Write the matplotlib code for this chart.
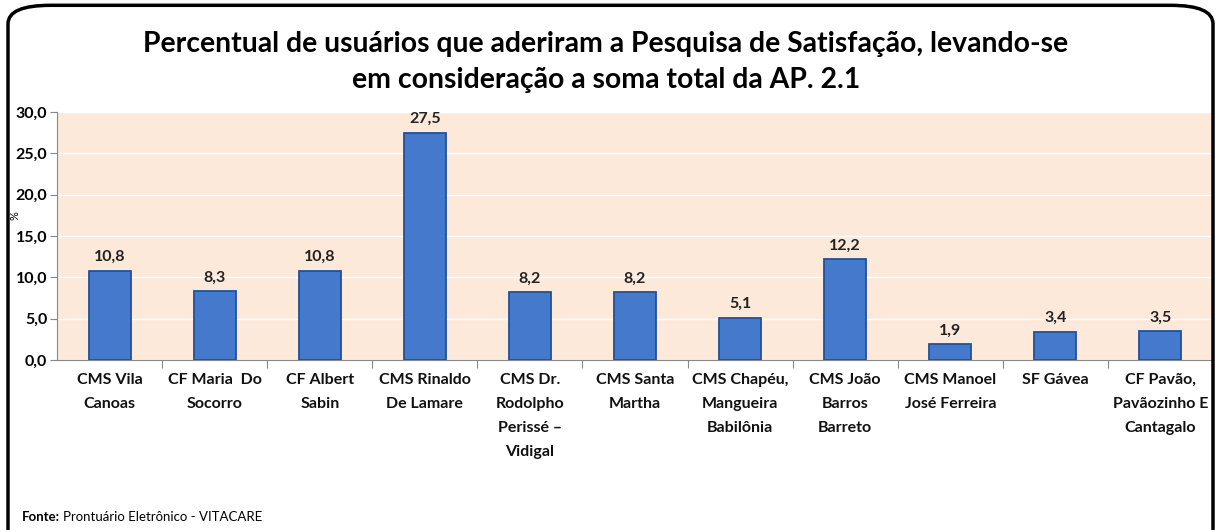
import matplotlib.pyplot as plt
from matplotlib.patches import FancyBboxPatch

# dados
categorias = [
    "CMS Vila\nCanoas",
    "CF Maria  Do\nSocorro",
    "CF Albert\nSabin",
    "CMS Rinaldo\nDe Lamare",
    "CMS Dr.\nRodolpho\nPerissé –\nVidigal",
    "CMS Santa\nMartha",
    "CMS Chapéu,\nMangueira\nBabilônia",
    "CMS João\nBarros\nBarreto",
    "CMS Manoel\nJosé Ferreira",
    "SF Gávea",
    "CF Pavão,\nPavãozinho E\nCantagalo",
]
percentuais = [10.8, 8.3, 10.8, 27.5, 8.2, 8.2, 5.1, 12.2, 1.9, 3.4, 3.5]
ticks_y = [0, 5, 10, 15, 20, 25, 30]

plt.rcParams["font.family"] = ["Lato", "DejaVu Sans"]

fig = plt.figure(figsize=(12.19, 5.30), dpi=100)
ax = fig.add_axes([57 / 1219, 1 - 360 / 530, (1213 - 57) / 1219, (360 - 112) / 530])

# moldura arredondada
moldura = FancyBboxPatch((8 / 1219, -0.05), 1205 / 1219, 1.04,
                         boxstyle="round,pad=0,rounding_size=0.035",
                         transform=fig.transFigure, facecolor="none",
                         edgecolor="black", linewidth=2.5, clip_on=False)
fig.patches.append(moldura)

ax.set_facecolor("#fde9d9")
x = range(len(categorias))
ax.bar(x, percentuais, width=0.4, color="#4479cc",
       edgecolor="#22509a", linewidth=1.3, zorder=3)

for xi, v in zip(x, percentuais):
    ax.text(xi, v + 0.8, f"{v:.1f}".replace(".", ","), ha="center", va="bottom",
            fontsize=11.5, fontweight="bold", color="#222222")

ax.set_xlim(-0.5, len(categorias) - 0.5)
ax.set_ylim(0, 30)
ax.set_yticks(ticks_y)
ax.set_yticklabels([f"{t:.1f}".replace(".", ",") for t in ticks_y],
                   fontsize=11.5, fontweight="bold")
ax.set_xticks([i + 0.5 for i in range(len(categorias) - 1)])
ax.set_xticklabels([])
ax.tick_params(axis="x", length=6, color="#888888")
ax.tick_params(axis="y", length=5, color="#888888", pad=2)
for xi, lab in zip(x, categorias):
    ax.text(xi, -1.6, lab, ha="center", va="top", fontsize=11.5,
            fontweight="bold", linespacing=1.9, color="#111111")

ax.grid(axis="y", color="white", linewidth=1, zorder=0)
for s in ["top", "right"]:
    ax.spines[s].set_visible(False)
ax.spines["left"].set_color("#888888")
ax.spines["bottom"].set_color("#888888")

fig.text(0.497, 1 - 62 / 530,
         "Percentual de usuários que aderiram a Pesquisa de Satisfação, levando-se\n"
         "em consideração a soma total da AP. 2.1",
         ha="center", va="center", fontsize=20.4, fontweight="bold", linespacing=1.45)

fig.text(22 / 1219, 1 - 517 / 530, "Fonte:", fontsize=9.5, fontweight="bold",
         va="center", ha="left")
fig.text(63 / 1219, 1 - 517 / 530, "Prontuário Eletrônico - VITACARE", fontsize=9.5,
         va="center", ha="left")

fig.text(15 / 1219, 1 - 216 / 530, "%", rotation=90, fontsize=8, va="center",
         ha="center")

fig.savefig("out.png", dpi=100)
